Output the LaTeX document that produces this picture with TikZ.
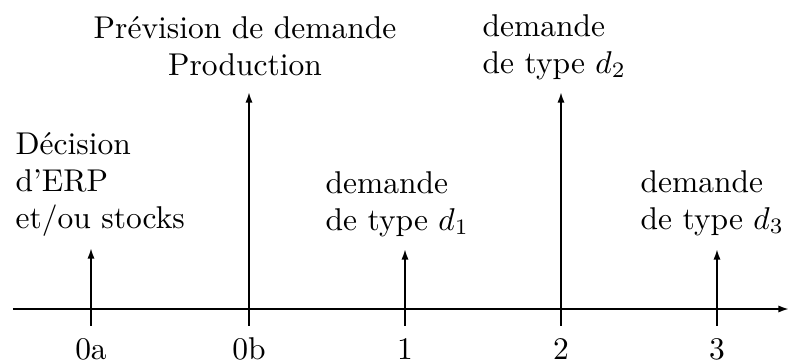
\documentclass[tikz,border=0pt]{standalone}
\usetikzlibrary{arrows.meta}
\begin{document}
\begin{tikzpicture}[x=0.3175pt,y=-0.3175pt,
  axis/.style={line width=0.6pt,-{Latex[length=3.4pt,width=2.3pt]}},
  evarrow/.style={line width=0.6pt,-{Latex[length=3.4pt,width=2.3pt]}},
  tickline/.style={line width=0.6pt},
  lbl/.style={inner sep=0pt,font=\fontsize{10}{11.6}\selectfont},
  ticklbl/.style={inner sep=0pt,anchor=base,font=\fontsize{10}{12}\selectfont}]
\useasboundingbox (0,0) rectangle (789,362);
% axis
\coordinate (axL) at (13,309);
\coordinate (axR) at (789,309);
\draw[axis] (axL) -- (axR);
% ticks and their labels
\foreach \n/\x/\t in {a/91/0a,b/249/0b,c/405/1,d/561/2,e/717/3}{
  \coordinate (t\n) at (\x,309);
  \coordinate (b\n) at (\x,326);
  \draw[tickline] (t\n) -- (b\n);
  \node[ticklbl] (l\n) at (\x,359) {\t};
}
% arrow tips
\coordinate (pa) at (91,248);
\coordinate (pb) at (249,92);
\coordinate (pc) at (405,249);
\coordinate (pd) at (561,92);
\coordinate (pe) at (717,249);
\foreach \n in {a,b,c,d,e}{ \draw[evarrow] (t\n) -- (p\n); }
% texts (base anchor = baseline of last line)
\node[lbl,anchor=base west,align=left] (ta) at (15,228) {D\'ecision\\d'ERP\\et/ou stocks};
\node[lbl,anchor=base,align=center] (tb) at (245,75) {Pr\'evision de demande\\Production};
\node[lbl,anchor=base west,align=left] (tc) at (325,230) {demande\\de type $d_1$};
\node[lbl,anchor=base west,align=left] (td) at (482,73) {demande\\de type $d_2$};
\node[lbl,anchor=base west,align=left] (te) at (640,229) {demande\\de type $d_3$};
\end{tikzpicture}
\end{document}
